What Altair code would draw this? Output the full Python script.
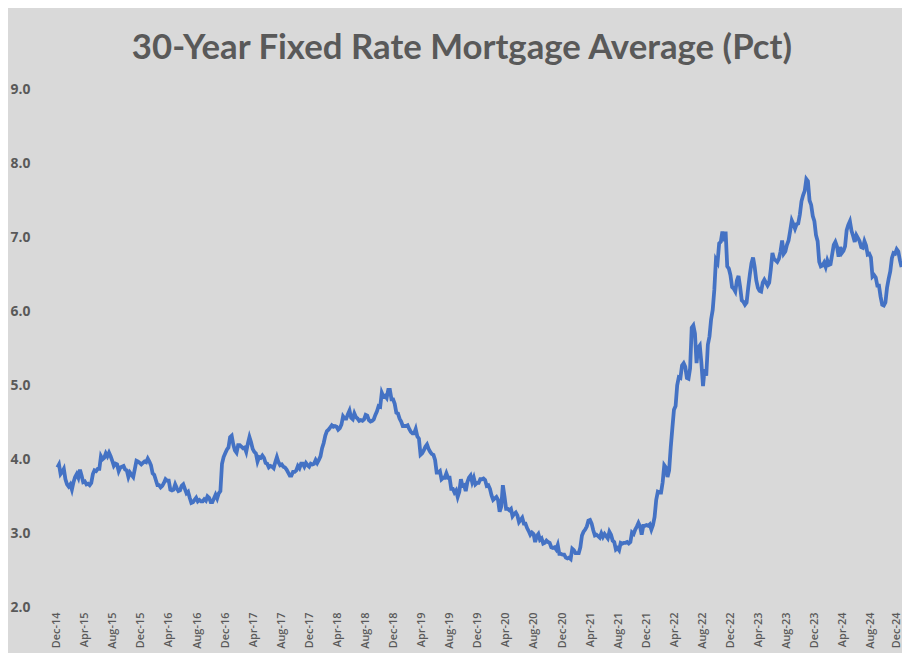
import altair as alt
import pandas as pd

# Weekly 30-year fixed mortgage rate (%), Dec 2014 - Dec 2024, grouped by month
y2014 = [3.89, 3.93, 3.80, 3.83, 3.87]
y2015 = [3.73, 3.66, 3.63, 3.66,
         3.59, 3.69, 3.76, 3.80,
         3.75, 3.86, 3.78, 3.69,
         3.70, 3.66, 3.67, 3.65, 3.68,
         3.80, 3.85, 3.84, 3.87,
         3.87, 4.04, 4.00, 4.02,
         4.08, 4.04, 4.09, 4.04, 3.98,
         3.91, 3.94, 3.93, 3.84,
         3.89, 3.90, 3.91, 3.86,
         3.85, 3.76, 3.82, 3.79, 3.76,
         3.87, 3.98, 3.97, 3.95,
         3.93, 3.95, 3.97, 3.96, 4.01]
y2016 = [3.97, 3.92, 3.81, 3.79,
         3.72, 3.65, 3.65, 3.62,
         3.64, 3.68, 3.73, 3.71, 3.71,
         3.59, 3.58, 3.59, 3.66,
         3.61, 3.57, 3.58, 3.64,
         3.66, 3.60, 3.54, 3.56, 3.48,
         3.41, 3.42, 3.45, 3.48,
         3.43, 3.45, 3.43, 3.43,
         3.46, 3.44, 3.50, 3.48, 3.42,
         3.42, 3.47, 3.52, 3.47,
         3.54, 3.57, 3.94, 4.03,
         4.08, 4.13, 4.16, 4.30, 4.32]
y2017 = [4.20, 4.12, 4.09, 4.19,
         4.19, 4.17, 4.15, 4.16,
         4.10, 4.21, 4.30, 4.23, 4.14,
         4.10, 4.08, 3.97, 4.03,
         4.02, 4.05, 4.02, 3.95,
         3.94, 3.89, 3.91, 3.90, 3.88,
         3.96, 4.03, 3.96, 3.92,
         3.93, 3.90, 3.89, 3.86, 3.82,
         3.78, 3.78, 3.83, 3.83,
         3.85, 3.91, 3.88, 3.94,
         3.94, 3.90, 3.95, 3.92, 3.90,
         3.94, 3.93, 3.94, 3.99]
y2018 = [3.95, 3.99, 4.04, 4.15,
         4.22, 4.32, 4.38, 4.40,
         4.43, 4.46, 4.44, 4.45, 4.44,
         4.40, 4.42, 4.47, 4.58,
         4.55, 4.55, 4.61, 4.66, 4.56,
         4.54, 4.62, 4.57, 4.55,
         4.52, 4.53, 4.52, 4.54,
         4.60, 4.59, 4.53, 4.51, 4.52,
         4.54, 4.60, 4.65, 4.72,
         4.71, 4.90, 4.85, 4.86,
         4.83, 4.94, 4.94, 4.81, 4.81,
         4.75, 4.63, 4.62, 4.55]
y2019 = [4.51, 4.45, 4.45, 4.45, 4.46,
         4.41, 4.37, 4.35, 4.35,
         4.41, 4.31, 4.28, 4.06,
         4.08, 4.12, 4.17, 4.20,
         4.14, 4.10, 4.07, 4.06, 3.99,
         3.82, 3.82, 3.84, 3.73,
         3.75, 3.75, 3.81, 3.75,
         3.75, 3.60, 3.60, 3.55, 3.58,
         3.49, 3.56, 3.73, 3.64,
         3.65, 3.57, 3.69, 3.75, 3.78,
         3.69, 3.75, 3.66, 3.68,
         3.68, 3.73, 3.73, 3.74]
y2020 = [3.72, 3.64, 3.65, 3.60, 3.51,
         3.45, 3.47, 3.49, 3.45,
         3.29, 3.36, 3.65, 3.50,
         3.33, 3.33, 3.31, 3.33, 3.23,
         3.26, 3.28, 3.24, 3.15,
         3.18, 3.21, 3.13, 3.13,
         3.07, 3.03, 2.98, 3.01, 2.99,
         2.88, 2.96, 2.99, 2.91,
         2.93, 2.86, 2.87, 2.90,
         2.88, 2.87, 2.81, 2.80, 2.81,
         2.78, 2.84, 2.72, 2.72,
         2.71, 2.71, 2.67, 2.66, 2.67]
y2021 = [2.65, 2.79, 2.77, 2.73,
         2.73, 2.73, 2.81, 2.97,
         3.02, 3.05, 3.09, 3.17,
         3.18, 3.13, 3.04, 2.97, 2.98,
         2.96, 2.94, 3.00, 2.95,
         2.99, 2.96, 2.93, 3.02,
         2.98, 2.90, 2.88, 2.78, 2.80,
         2.77, 2.87, 2.86, 2.87,
         2.87, 2.88, 2.86, 2.88, 3.01,
         2.99, 3.05, 3.09, 3.14,
         3.09, 2.98, 3.10, 3.10,
         3.11, 3.10, 3.12, 3.05, 3.11]
y2022 = [3.22, 3.45, 3.56, 3.55,
         3.55, 3.69, 3.92, 3.89,
         3.76, 3.85, 4.16, 4.42, 4.67,
         4.72, 5.00, 5.11, 5.10,
         5.27, 5.30, 5.25, 5.10,
         5.09, 5.23, 5.78, 5.81, 5.70,
         5.30, 5.51, 5.54, 5.30,
         4.99, 5.22, 5.13, 5.55,
         5.66, 5.89, 6.02, 6.29, 6.70,
         6.66, 6.92, 6.94, 7.08,
         6.95, 7.08, 6.61, 6.58,
         6.49, 6.33, 6.31, 6.27, 6.42]
y2023 = [6.48, 6.33, 6.15, 6.13,
         6.09, 6.12, 6.32, 6.50,
         6.65, 6.73, 6.60, 6.42, 6.32,
         6.28, 6.27, 6.39, 6.43,
         6.39, 6.35, 6.39, 6.57,
         6.79, 6.71, 6.69, 6.67, 6.71,
         6.81, 6.96, 6.78, 6.81,
         6.90, 6.96, 7.09, 7.23, 7.18,
         7.12, 7.18, 7.19, 7.31,
         7.49, 7.57, 7.63, 7.79,
         7.76, 7.50, 7.44, 7.29, 7.22,
         7.03, 6.95, 6.67, 6.61]
y2024 = [6.62, 6.66, 6.60, 6.69,
         6.63, 6.64, 6.77, 6.90, 6.94,
         6.88, 6.74, 6.87, 6.79,
         6.82, 6.88, 7.10, 7.17,
         7.22, 7.09, 7.02, 6.94, 7.03,
         6.99, 6.95, 6.87, 6.86,
         6.95, 6.89, 6.77, 6.78,
         6.73, 6.47, 6.49, 6.46, 6.35,
         6.35, 6.20, 6.09, 6.08,
         6.12, 6.32, 6.44, 6.54, 6.72,
         6.79, 6.78, 6.84, 6.81,
         6.69, 6.60]

rates = y2014 + y2015 + y2016 + y2017 + y2018 + y2019 + y2020 + y2021 + y2022 + y2023 + y2024
weeks = pd.date_range(end="2024-12-12", periods=len(rates), freq="7D")

tick_dates = pd.date_range("2014-12-01", "2024-12-01", freq="4MS")
y_ticks = [2, 3, 4, 5, 6, 7, 8, 9]

title_text = "30-Year Fixed Rate Mortgage Average (Pct)"

df = pd.DataFrame({"week": weeks, "rate": rates})

tick_values = [alt.DateTime(year=d.year, month=d.month, date=1) for d in tick_dates]

chart = alt.Chart(df).mark_line(color="#4472C4", strokeWidth=3.8).encode(
    x=alt.X(
        "week:T",
        scale=alt.Scale(domain=[alt.DateTime(year=2014, month=12, date=1),
                                alt.DateTime(year=2024, month=12, date=1)]),
        axis=alt.Axis(
            values=tick_values,
            format="%b-%y",
            labelAngle=-90,
            labelFont="Open Sans",
            labelFontSize=11,
            labelFontWeight=600,
            labelColor="#595959",
            labelPadding=5,
            labelOffset={"condition": {"test": "datum.value > 1730000000000", "value": -3}, "value": 0},
            ticks=False,
            tickSize=0,
            domain=False,
            grid=False,
            title=None,
            labelOverlap=False,
            labelBound=False,
            labelFlush=False,
        ),
    ),
    y=alt.Y(
        "rate:Q",
        scale=alt.Scale(domain=[2, 9], nice=False, zero=False),
        axis=alt.Axis(
            values=y_ticks,
            format=".1f",
            labelFont="Open Sans",
            labelFontSize=14,
            labelFontWeight=700,
            labelColor="#595959",
            labelAlign="left",
            labelPadding=47,
            ticks=False,
            tickSize=0,
            domain=False,
            grid=False,
            title=None,
        ),
    ),
).properties(
    width=848,
    height=521,
    title=alt.TitleParams(
        text=title_text,
        font="Lato",
        fontSize=35,
        fontWeight=700,
        color="#595959",
        anchor="middle",
        dx=-16,
        offset=17,
    ),
    autosize=alt.AutoSizeParams(type="none"),
    padding={"left": 49, "top": 80, "right": 3, "bottom": 44},
    background="#d9d9d9",
).configure_view(stroke=None)

chart.save("out.html", embed_options={"renderer": "svg", "actions": False})
